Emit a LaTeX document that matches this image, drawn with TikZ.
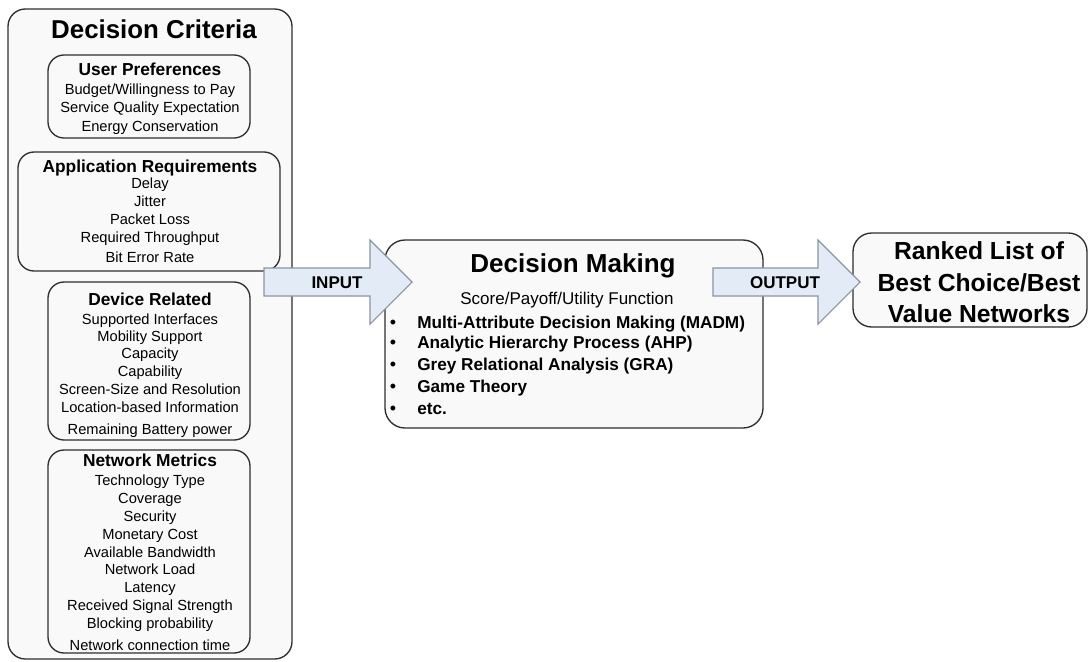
\documentclass[tikz,border=0pt]{standalone}
\usepackage{fontspec}
\setmainfont{Liberation Sans}
\definecolor{boxline}{HTML}{2E2E2E}
\definecolor{boxfill}{HTML}{F9F9F9}
\definecolor{arrowfill}{HTML}{E3EBF7}
\definecolor{arrowline}{HTML}{8A94A0}
\tikzset{
  critbox/.style={draw=boxline, line width=1pt, rounded corners=12pt},
  blockarrow/.style={draw=arrowline, fill=arrowfill, line width=0.8pt, line join=miter},
  txt/.style={inner sep=0pt, text depth=0pt},
  itemtxt/.style={txt, text height=7.9pt, font=\fontsize{11}{13}\selectfont},
  headtxt/.style={txt, text height=9.4pt, font=\bfseries\fontsize{13}{15}\selectfont},
  labeltxt/.style={txt, text height=9.2pt, font=\bfseries\fontsize{12.75}{15}\selectfont},
  bigtxt/.style={txt, text height=13.3pt, font=\bfseries\fontsize{18.5}{21}\selectfont},
  bullettxt/.style={txt, text height=9.3pt, anchor=west, font=\bfseries\fontsize{12.9}{15}\selectfont},
  bulletdot/.style={txt, text height=9.3pt, font=\fontsize{13.5}{15}\selectfont},
}
\begin{document}
\begin{tikzpicture}[x=0.75pt,y=0.75pt,yscale=-1,xscale=1]
\useasboundingbox (0,0) rectangle (1089,661);
%Rounded Rect: Decision Criteria
\draw [critbox, fill=boxfill, rounded corners=13pt] (8,9) rectangle (292,659) ;
%Rounded Rect: User Preferences
\draw [critbox] (48,55) rectangle (250,138) ;
%Rounded Rect: Application Requirements
\draw [critbox] (18,152) rectangle (280,271) ;
%Rounded Rect: Device Related
\draw [critbox] (48,282) rectangle (250,440) ;
%Rounded Rect: Network Metrics
\draw [critbox] (48,450) rectangle (250,653) ;
%Rounded Rect: Decision Making
\draw [critbox, fill=boxfill, rounded corners=15pt] (385,240) rectangle (763,428) ;
%Rounded Rect: Ranked List
\draw [critbox, fill=boxfill, rounded corners=14pt] (853,233) rectangle (1087,327) ;
%Block Arrow: Input
\draw [blockarrow] (264,268) -- (370,268) -- (370,240) -- (412,282) -- (370,324) -- (370,296) -- (264,296) -- cycle ;
%Block Arrow: Output
\draw [blockarrow] (713,268) -- (818,268) -- (818,240) -- (860,282) -- (818,324) -- (818,296) -- (713,296) -- cycle ;
% Text Node
\node [bigtxt, text height=14pt, font=\bfseries\fontsize{19.4}{22}\selectfont] (critTitle) at (154,29) {Decision Criteria};
% Text Node
\node [headtxt] (prefTitle) at (150,69) {User Preferences};
\node [itemtxt] (pref1) at (150,89) {Budget/Willingness to Pay};
\node [itemtxt] (pref2) at (150,107) {Service Quality Expectation};
\node [itemtxt] (pref3) at (150,126) {Energy Conservation};
% Text Node
\node [headtxt] (appTitle) at (150,166) {Application Requirements};
\node [itemtxt] (app1) at (150,183) {Delay};
\node [itemtxt] (app2) at (150,201) {Jitter};
\node [itemtxt] (app3) at (150,219) {Packet Loss};
\node [itemtxt] (app4) at (150,237) {Required Throughput};
\node [itemtxt] (app5) at (150,257) {Bit Error Rate};
% Text Node
\node [headtxt] (devTitle) at (150,299) {Device Related};
\node [itemtxt] (dev1) at (150,319) {Supported Interfaces};
\node [itemtxt] (dev2) at (150,336) {Mobility Support};
\node [itemtxt] (dev3) at (150,353) {Capacity};
\node [itemtxt] (dev4) at (150,371) {Capability};
\node [itemtxt] (dev5) at (150,389) {Screen-Size and Resolution};
\node [itemtxt] (dev6) at (150,407) {Location-based Information};
\node [itemtxt] (dev7) at (150,429) {Remaining Battery power};
% Text Node
\node [headtxt] (netTitle) at (150,460) {Network Metrics};
\node [itemtxt] (net1) at (150,480) {Technology Type};
\node [itemtxt] (net2) at (150,498) {Coverage};
\node [itemtxt] (net3) at (150,516) {Security};
\node [itemtxt] (net4) at (150,534) {Monetary Cost};
\node [itemtxt] (net5) at (150,552) {Available Bandwidth};
\node [itemtxt] (net6) at (150,569) {Network Load};
\node [itemtxt] (net7) at (150,587) {Latency};
\node [itemtxt] (net8) at (150,605) {Received Signal Strength};
\node [itemtxt] (net9) at (150,623) {Blocking probability};
\node [itemtxt] (net10) at (150,645) {Network connection time};
% Text Node
\node [labeltxt] (inLabel) at (337,282) {INPUT};
\node [labeltxt] (outLabel) at (785,282) {OUTPUT};
% Text Node
\node [bigtxt, text height=14pt, font=\bfseries\fontsize{19.5}{22}\selectfont] (dmTitle) at (573,263) {Decision Making};
\node [txt, text height=9.2pt, font=\fontsize{12.75}{15}\selectfont] (dmSub) at (567,298) {Score/Payoff/Utility Function};
% Text Node
\node [bullettxt] (dm1) at (417,322) {Multi-Attribute Decision Making (MADM)};
\node [bullettxt] (dm2) at (417,342) {Analytic Hierarchy Process (AHP)};
\node [bullettxt] (dm3) at (417,364) {Grey Relational Analysis (GRA)};
\node [bullettxt] (dm4) at (417,386) {Game Theory};
\node [bullettxt] (dm5) at (417,408) {etc.};
\node [bulletdot] (dmb1) at (393,322) {\textbullet};
\node [bulletdot] (dmb2) at (393,342) {\textbullet};
\node [bulletdot] (dmb3) at (393,364) {\textbullet};
\node [bulletdot] (dmb4) at (393,386) {\textbullet};
\node [bulletdot] (dmb5) at (393,408) {\textbullet};
% Text Node
\node [bigtxt] (rank1) at (979,251) {Ranked List of};
\node [bigtxt] (rank2) at (979,283) {Best Choice/Best};
\node [bigtxt] (rank3) at (979,314) {Value Networks};
\end{tikzpicture}
\end{document}
